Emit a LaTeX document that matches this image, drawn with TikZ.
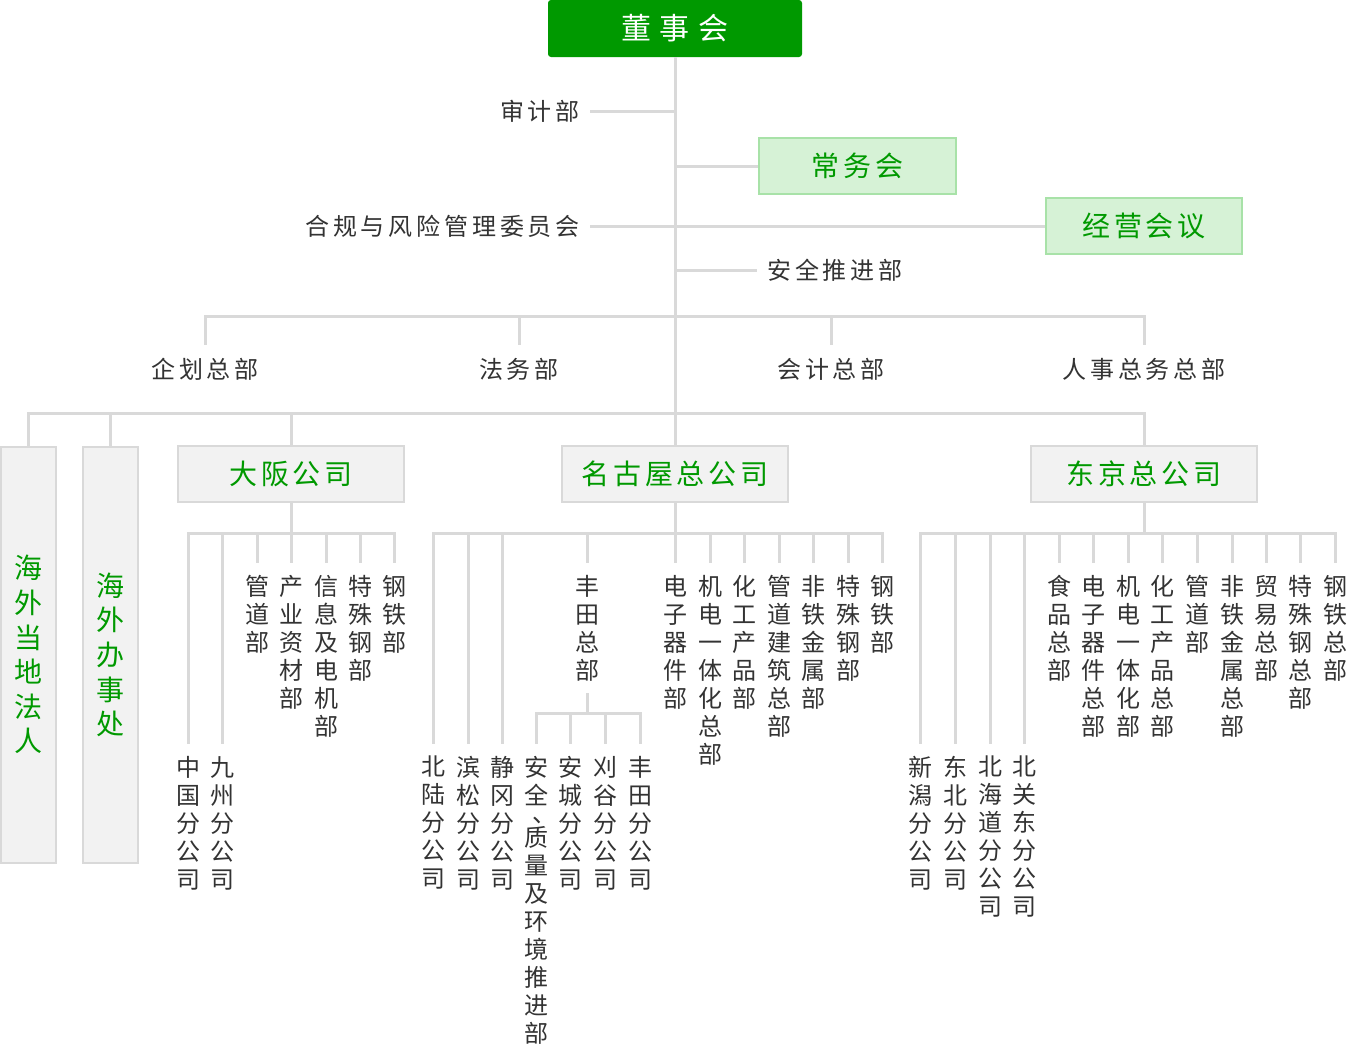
\documentclass[tikz,border=0pt]{standalone}
\usepackage{fontspec}
\newfontfamily\cjk{Noto Sans CJK SC}
\newfontfamily\cjksp{Noto Sans CJK SC}[LetterSpace=16]
\newfontfamily\cjkbox{Noto Sans CJK SC}[LetterSpace=14]
\newfontfamily\cjkwide{Noto Sans CJK SC}[LetterSpace=28]
\definecolor{lineg}{HTML}{D9D9D9}
\definecolor{txt}{HTML}{333333}
\definecolor{grn}{HTML}{009900}
\definecolor{lgfill}{HTML}{D6F2D6}
\definecolor{lgdraw}{HTML}{A8E2A8}
\definecolor{gfill}{HTML}{F2F2F2}
\definecolor{gdraw}{HTML}{D9D9D9}
\tikzset{
  conn/.style={draw=lineg, line width=3pt, line cap=rect},
  boardbox/.style={fill=grn, rounded corners=3pt, text=white, font=\cjkwide\fontsize{30}{30}\selectfont, minimum width=254pt, minimum height=57pt, inner sep=0pt},
  greenbox/.style={fill=lgfill, draw=lgdraw, line width=1.5pt, text=grn, font=\cjkbox\fontsize{28}{28}\selectfont, minimum width=197pt, minimum height=56pt, inner sep=0pt},
  graybox/.style={fill=gfill, draw=gdraw, line width=1.5pt, text=grn, font=\cjkbox\fontsize{28}{28}\selectfont, minimum width=226pt, minimum height=56pt, inner sep=0pt},
  tallbox/.style={fill=gfill, draw=gdraw, line width=1.5pt, text=grn, font=\cjk\fontsize{28}{34.6}\selectfont, align=center, minimum width=55pt, minimum height=416pt, inner sep=0pt, anchor=north},
  sidelbl/.style={text=txt, font=\cjksp\fontsize{24}{28}\selectfont, inner ysep=0pt, inner xsep=10pt},
  toplbl/.style={text=txt, font=\cjksp\fontsize{24}{28}\selectfont, inner xsep=0pt, inner ysep=12pt, text height=21pt, anchor=north},
  vtext/.style={text=txt, font=\cjk\fontsize{24}{28}\selectfont, align=center, inner xsep=0pt, inner ysep=12pt, anchor=north, execute at begin node={\rule{0pt}{22pt}}},
}
\begin{document}
\begin{tikzpicture}[x=1pt,y=-1pt]
\useasboundingbox (0,0) rectangle (1348,1052);
\fill[white] (0,0) rectangle (1348,1052);

% top level
\node[boardbox] (board) at (675,28.5) {董事会};
\node[greenbox] (jomu) at (857.5,166) {常务会};
\node[greenbox, minimum width=196pt] (keiei) at (1144,226) {经营会议};
\node[sidelbl, anchor=east] (audit) at (590,111) {审计部};
\node[sidelbl, anchor=east] (comp) at (590,226) {合规与风险管理委员会};
\node[sidelbl, anchor=west] (safety) at (757,270) {安全推进部};

\coordinate (t111) at (675,111);
\coordinate (t166) at (675,166);
\coordinate (t270) at (675,270);

% headquarters departments
\node[toplbl] (kikaku) at (205,345) {企划总部};
\node[toplbl] (houmu) at (519,345) {法务部};
\node[toplbl] (kaikei) at (831,345) {会计总部};
\node[toplbl] (jinji) at (1144,345) {人事总务总部};
\coordinate (b1l) at (205,316);
\coordinate (b1a) at (519,316);
\coordinate (b1b) at (831,316);
\coordinate (b1r) at (1144,316);

% second level boxes
\node[tallbox] (local) at (28.5,446) {海\\外\\当\\地\\法\\人};
\node[tallbox] (office) at (110.5,446) {海\\外\\办\\事\\处};
\node[graybox] (osaka) at (291,474) {大阪公司};
\node[graybox] (nagoya) at (675,474) {名古屋总公司};
\node[graybox] (tokyo) at (1144,474) {东京总公司};
\coordinate (b2l) at (28.5,413);
\coordinate (b2a) at (110.5,413);
\coordinate (b2b) at (291,413);
\coordinate (b2r) at (1144,413);

% trunk
\draw[conn, line cap=butt] (board.south) -- (nagoya.north);
\draw[conn, line cap=butt] (audit.east) -- (t111);
\draw[conn, line cap=butt] (comp.east) -- (keiei.west);
\draw[conn, line cap=butt] (t166) -- (jomu.west);
\draw[conn, line cap=butt] (t270) -- (safety.west);
\draw[conn] (b1l) -- (b1r);
\foreach \c/\n in {b1l/kikaku,b1a/houmu,b1b/kaikei,b1r/jinji}
  \draw[conn, line cap=butt] (\c) -- (\n.north);
\draw[conn] (b2l) -- (b2r);
\foreach \c/\n in {b2l/local,b2a/office,b2b/osaka,b2r/tokyo}
  \draw[conn, line cap=butt] (\c) -- (\n.north);

% Osaka
\coordinate (ob) at (291,533);
\coordinate (obl) at (188,533);
\coordinate (obr) at (394,533);
\node[vtext] (o1) at (188,744) {中\\国\\分\\公\\司};
\node[vtext] (o2) at (222,744) {九\\州\\分\\公\\司};
\node[vtext] (o3) at (257,563) {管\\道\\部};
\node[vtext] (o4) at (291,563) {产\\业\\资\\材\\部};
\node[vtext] (o5) at (326,563) {信\\息\\及\\电\\机\\部};
\node[vtext] (o6) at (360,563) {特\\殊\\钢\\部};
\node[vtext] (o7) at (394,563) {钢\\铁\\部};
\draw[conn, line cap=butt] (osaka.south) -- (ob);
\draw[conn] (obl) -- (obr);
\foreach \n in {o1,o2,o3,o4,o5,o6,o7}
  \draw[conn, line cap=butt] (\n.north |- ob) -- (\n.north);

% Nagoya
\coordinate (nb) at (675,533);
\coordinate (nbl) at (433,533);
\coordinate (nbr) at (882,533);
\node[vtext] (n1) at (433,744) {北\\陆\\分\\公\\司};
\node[vtext] (n2) at (468,744) {滨\\松\\分\\公\\司};
\node[vtext] (n3) at (502,744) {静\\冈\\分\\公\\司};
\node[vtext] (n4) at (587,563) {丰\\田\\总\\部};
\node[vtext] (n5) at (675,563) {电\\子\\器\\件\\部};
\node[vtext] (n6) at (710,563) {机\\电\\一\\体\\化\\总\\部};
\node[vtext] (n7) at (744,563) {化\\工\\产\\品\\部};
\node[vtext] (n8) at (779,563) {管\\道\\建\\筑\\总\\部};
\node[vtext] (n9) at (813,563) {非\\铁\\金\\属\\部};
\node[vtext] (n10) at (848,563) {特\\殊\\钢\\部};
\node[vtext] (n11) at (882,563) {钢\\铁\\部};
\draw[conn, line cap=butt] (nagoya.south) -- (nb);
\draw[conn] (nbl) -- (nbr);
\foreach \n in {n1,n2,n3,n4,n5,n6,n7,n8,n9,n10,n11}
  \draw[conn, line cap=butt] (\n.north |- nb) -- (\n.north);

% Toyota
\coordinate (tb) at (587,713);
\coordinate (tbl) at (536,713);
\coordinate (tbr) at (640,713);
\node[vtext] (ty1) at (536,744) {安\\全\\[-10pt]\hspace*{16pt}、\\[-4pt]质\\量\\及\\环\\境\\推\\进\\部};
\node[vtext] (ty2) at (570,744) {安\\城\\分\\公\\司};
\node[vtext] (ty3) at (605,744) {刈\\谷\\分\\公\\司};
\node[vtext] (ty4) at (640,744) {丰\\田\\分\\公\\司};
\draw[conn, line cap=butt] (n4.south) -- (tb);
\draw[conn] (tbl) -- (tbr);
\foreach \n in {ty1,ty2,ty3,ty4}
  \draw[conn, line cap=butt] (\n.north |- tb) -- (\n.north);

% Tokyo
\coordinate (kb) at (1144,533);
\coordinate (kbl) at (920,533);
\coordinate (kbr) at (1335,533);
\node[vtext] (k1) at (920,744) {新\\潟\\分\\公\\司};
\node[vtext] (k2) at (955,744) {东\\北\\分\\公\\司};
\node[vtext] (k3) at (990,744) {北\\海\\道\\分\\公\\司};
\node[vtext] (k4) at (1024,744) {北\\关\\东\\分\\公\\司};
\node[vtext] (k5) at (1059,563) {食\\品\\总\\部};
\node[vtext] (k6) at (1093,563) {电\\子\\器\\件\\总\\部};
\node[vtext] (k7) at (1128,563) {机\\电\\一\\体\\化\\部};
\node[vtext] (k8) at (1162,563) {化\\工\\产\\品\\总\\部};
\node[vtext] (k9) at (1197,563) {管\\道\\部};
\node[vtext] (k10) at (1232,563) {非\\铁\\金\\属\\总\\部};
\node[vtext] (k11) at (1266,563) {贸\\易\\总\\部};
\node[vtext] (k12) at (1300,563) {特\\殊\\钢\\总\\部};
\node[vtext] (k13) at (1335,563) {钢\\铁\\总\\部};
\draw[conn, line cap=butt] (tokyo.south) -- (kb);
\draw[conn] (kbl) -- (kbr);
\foreach \n in {k1,k2,k3,k4,k5,k6,k7,k8,k9,k10,k11,k12,k13}
  \draw[conn, line cap=butt] (\n.north |- kb) -- (\n.north);
\end{tikzpicture}
\end{document}
